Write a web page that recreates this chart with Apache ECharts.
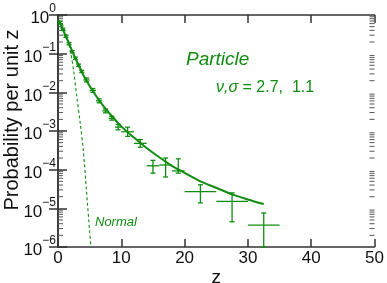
<!DOCTYPE html>
<html><head><meta charset="utf-8">
<script src="https://cdn.jsdelivr.net/npm/echarts@6/dist/echarts.min.js"></script>
<style>html,body{margin:0;padding:0;background:#fff}#c{width:387px;height:283px}</style>
</head><body><div id="c"></div>
<script>
// Fitted "Particle" curve (solid)
const curveZ = [0,0.5,1,1.5,2,3,4,5,6,7,8,10,12,14,16,18,20,22.5,25,27.5,30,32.5];
const curveP = [0.741,0.525,0.347,0.224,0.145,0.0617,0.0282,0.0145,0.00813,0.00479,0.00302,0.00132,6.76e-4,3.63e-4,2.09e-4,1.26e-4,8.3e-5,5.0e-5,3.4e-5,2.3e-5,1.7e-5,1.29e-5];
// "Normal" curve (dashed)
const normZ = [0,0.5,1,1.5,2,2.5,3,3.5,4,4.5,5,5.2];
const normP = [0.741,0.646,0.437,0.24,0.107,0.0331,0.00708,0.00166,3.16e-4,2.82e-5,2.51e-6,1e-6];
// Data points with error bars
const ptZ   = [0.25,0.75,1.25,1.75,2.25,2.75,3.25,3.75,4.5,5.5,6.5,7.5,8.5,9.5,11,13,15,17,19,22.5,27.5,32.5];
const ptZlo = [0,0.5,1,1.5,2,2.5,3,3.5,4,5,6,7,8,9,10,12,14,16,18,20,25,30];
const ptZhi = [0.5,1,1.5,2,2.5,3,3.5,4,5,6,7,8,9,10,12,14,16,18,20,25,30,35];
const ptP   = [0.631,0.427,0.282,0.182,0.112,0.0759,0.0501,0.0347,0.0209,0.0112,0.00603,0.00331,0.00214,0.00126,9.55e-4,4.79e-4,1.26e-4,1.32e-4,9.3e-5,2.69e-5,1.51e-5,3.7e-6];
const ptPlo = [0.589,0.398,0.263,0.170,0.104,0.0708,0.0468,0.0324,0.0186,0.00998,0.00537,0.00295,0.00191,0.00107,7.25e-4,3.8e-4,8.13e-5,6.46e-5,8.13e-5,1.38e-5,4.47e-6,1e-6];
const ptPhi = [0.676,0.458,0.302,0.195,0.120,0.0813,0.0537,0.0372,0.0235,0.01257,0.00677,0.00371,0.00240,0.00148,1.26e-3,6.03e-4,1.74e-4,2.0e-4,1.91e-4,4.07e-5,2.51e-5,7.59e-6];
const xTicks = [0,10,20,30,40,50];
const yDecades = [-6,-5,-4,-3,-2,-1,0];

const GREEN = '#108c10';
const AX = '#333';
const FONT = 'Liberation Sans';

const minorVals = [];
for (let e = -6; e < 0; e++) for (let k = 2; k <= 9; k++) minorVals.push([k * Math.pow(10, e)]);

const chart = echarts.init(document.getElementById('c'), null, {renderer: 'canvas'});
const supMap = v => { const e = Math.round(Math.log10(v)); return e < 0 ? '\u2212' + (-e) : String(e); };

chart.setOption({
  animation: false,
  backgroundColor: '#fff',
  grid: {left: 58, right: 12.5, top: 15, bottom: 36, containLabel: false, outerBoundsMode: 'none'},
  xAxis: [{
    type: 'value', min: 0, max: 50, interval: 10, position: 'bottom',
    name: 'z', nameLocation: 'middle', nameGap: 21, nameMoveOverlap: false,
    nameTextStyle: {fontFamily: FONT, fontSize: 19, color: '#111'},
    axisLine: {show: true, lineStyle: {color: AX, width: 1.5}},
    axisTick: {show: true, inside: true, length: 8, lineStyle: {color: AX, width: 1.5}},
    axisLabel: {fontFamily: FONT, fontSize: 17, color: '#111', margin: 3,
      formatter: v => xTicks.includes(v) ? String(v) : ''},
    splitLine: {show: false}
  }, {
    type: 'value', min: 0, max: 50, interval: 10, position: 'top',
    axisLine: {show: true, lineStyle: {color: AX, width: 1.5}},
    axisTick: {show: true, inside: true, length: 8, lineStyle: {color: AX, width: 1.5}},
    axisLabel: {show: false}, splitLine: {show: false}
  }],
  yAxis: [{
    type: 'log', logBase: 10, min: 1e-6, max: 1, interval: 1, position: 'left',
    name: 'Probability per unit z', nameLocation: 'middle', nameGap: 36, nameMoveOverlap: false,
    nameTextStyle: {fontFamily: FONT, fontSize: 20, color: '#111', padding: [0, 0, 0, 22]},
    axisLine: {show: true, lineStyle: {color: AX, width: 1.5}},
    axisTick: {show: true, inside: true, length: 9, lineStyle: {color: AX, width: 1.5}},
    axisLabel: {margin: 2, fontFamily: FONT, color: '#111',
      formatter: v => '{b|10}{s|' + supMap(v) + '}',
      rich: {
        b: {fontFamily: FONT, fontSize: 17, lineHeight: 24, verticalAlign: 'bottom', color: '#111'},
        s: {fontFamily: FONT, fontSize: 12, lineHeight: 12, verticalAlign: 'top', color: '#111'}
      }},
    splitLine: {show: false}
  }, {
    type: 'log', logBase: 10, min: 1e-6, max: 1, interval: 1, position: 'right',
    axisLine: {show: true, lineStyle: {color: AX, width: 1.5}},
    axisTick: {show: true, inside: true, length: 9, lineStyle: {color: AX, width: 1.5}},
    axisLabel: {show: false}, splitLine: {show: false}
  }],
  series: [
    {
      type: 'custom', name: 'minorTicks', silent: true, z: 1,
      data: minorVals,
      renderItem: (params, api) => {
        const v = api.value(0);
        const l = api.coord([0, v]);
        const r = api.coord([50, v]);
        return {type: 'group', children: [
          {type: 'line', shape: {x1: l[0], y1: l[1], x2: l[0] + 5, y2: l[1]}, style: {stroke: '#555', lineWidth: 1}},
          {type: 'line', shape: {x1: r[0], y1: r[1], x2: r[0] - 5, y2: r[1]}, style: {stroke: '#555', lineWidth: 1}}
        ]};
      }
    },
    {
      type: 'line', name: 'Particle', data: curveZ.map((z, i) => [z, curveP[i]]),
      showSymbol: false, smooth: 0.3, lineStyle: {color: GREEN, width: 2}, z: 3
    },
    {
      type: 'line', name: 'Normal', data: normZ.map((z, i) => [z, normP[i]]),
      showSymbol: false, smooth: 0.3, lineStyle: {color: GREEN, width: 1.1, type: [3, 2.5]}, z: 2
    },
    {
      type: 'custom', name: 'points', z: 4,
      data: ptZ.map((z, i) => [z, ptP[i], ptZlo[i], ptZhi[i], ptPlo[i], ptPhi[i]]),
      renderItem: (params, api) => {
        const z = api.value(0), p = api.value(1);
        const a = api.coord([api.value(2), p]);
        const b = api.coord([api.value(3), p]);
        const lo = api.coord([z, api.value(4)]);
        const hi = api.coord([z, api.value(5)]);
        const st = {stroke: GREEN, lineWidth: 1.3};
        return {type: 'group', children: [
          {type: 'line', shape: {x1: a[0], y1: a[1], x2: b[0], y2: b[1]}, style: st},
          {type: 'line', shape: {x1: lo[0], y1: lo[1], x2: hi[0], y2: hi[1]}, style: st},
          {type: 'line', shape: {x1: lo[0] - 2.5, y1: lo[1], x2: lo[0] + 2.5, y2: lo[1]}, style: st},
          {type: 'line', shape: {x1: hi[0] - 2.5, y1: hi[1], x2: hi[0] + 2.5, y2: hi[1]}, style: st}
        ]};
      }
    }
  ],
  graphic: [
    {type: 'text', left: 186, top: 50, style: {text: 'Particle', fill: GREEN, font: 'italic 19px "Liberation Sans"'}},
    {type: 'text', left: 216, top: 80, style: {
      text: '{g|\u03bd,\u03c3} = 2.7,  1.1', fill: GREEN, font: '16px "Liberation Sans"',
      rich: {g: {fontStyle: 'italic', fontSize: 16, fontFamily: FONT, fill: GREEN}}}},
    {type: 'text', left: 95, top: 216, style: {text: 'Normal', fill: GREEN, font: 'italic 13px "Liberation Sans"'}}
  ]
});
</script>
</body></html>
